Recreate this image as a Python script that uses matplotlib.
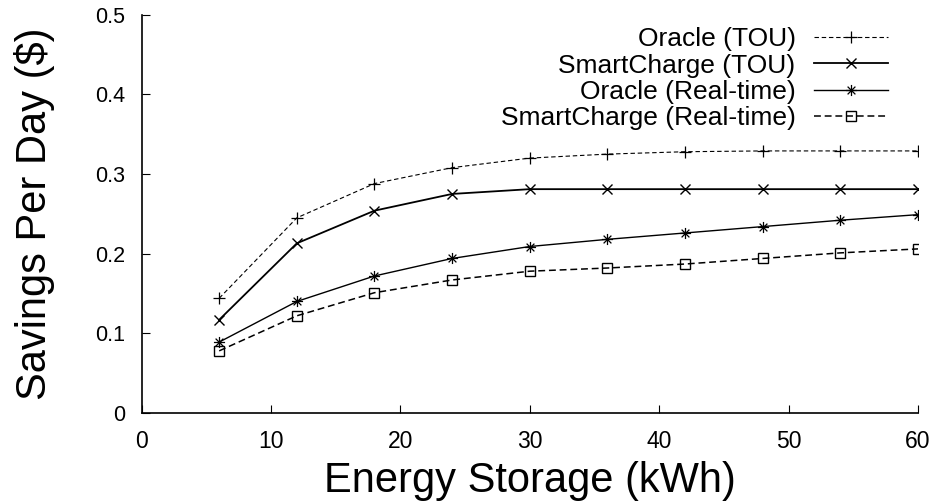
import numpy as np
import matplotlib
matplotlib.use('Agg')
import matplotlib.pyplot as plt
from matplotlib.path import Path

plt.rcParams['font.family'] = ['Liberation Sans', 'DejaVu Sans']

# Data
storage_kwh = [6, 12, 18, 24, 30, 36, 42, 48, 54, 60]
oracle_tou = [0.144, 0.245, 0.288, 0.308, 0.320, 0.325, 0.328, 0.329, 0.329, 0.329]
smart_tou = [0.117, 0.213, 0.254, 0.275, 0.281, 0.281, 0.281, 0.281, 0.281, 0.281]
oracle_rt = [0.089, 0.140, 0.172, 0.194, 0.209, 0.218, 0.226, 0.234, 0.242, 0.249]
smart_rt = [0.078, 0.122, 0.151, 0.167, 0.178, 0.182, 0.187, 0.194, 0.201, 0.206]

x_ticks = [0, 10, 20, 30, 40, 50, 60]
y_ticks = [0, 0.1, 0.2, 0.3, 0.4, 0.5]
y_tick_labels = ['0', '0.1', '0.2', '0.3', '0.4', '0.5']

# gnuplot style asterisk: plus and cross on top of each other
star = Path([(-1, 0), (1, 0), (0, -1), (0, 1),
             (-0.7, -0.7), (0.7, 0.7), (-0.7, 0.7), (0.7, -0.7)],
            [Path.MOVETO, Path.LINETO] * 4)

fig = plt.figure(figsize=(9.38, 5.04), dpi=100)
ax = fig.add_axes([0.1509, 0.1806, 0.8278, 0.7902])

ax.plot(storage_kwh, oracle_tou, color='black', lw=0.8, ls=(0, (4, 2.5)),
        marker='+', ms=8, mew=0.9, label='Oracle (TOU)')
ax.plot(storage_kwh, smart_tou, color='black', lw=1.3, ls='-',
        marker='x', ms=7, mew=1.0, label='SmartCharge (TOU)')
ax.plot(storage_kwh, oracle_rt, color='black', lw=1.0, ls='-',
        marker=star, ms=8, mew=0.9, mfc='none', label='Oracle (Real-time)')
ax.plot(storage_kwh, smart_rt, color='black', lw=1.1, ls=(0, (4.5, 2.5)),
        marker='s', ms=7, mew=1.0, mfc='none', label='SmartCharge (Real-time)')

ax.set_xlim(0, 60)
ax.set_ylim(0, 0.5)
ax.set_xticks(x_ticks)
ax.set_yticks(y_ticks)
ax.set_yticklabels(y_tick_labels)

for side in ['top', 'right']:
    ax.spines[side].set_visible(False)
for side in ['left', 'bottom']:
    ax.spines[side].set_linewidth(1.2)

ax.tick_params(axis='both', direction='in', length=6, width=0.8)
ax.tick_params(axis='x', pad=12, labelsize=16.5)
ax.tick_params(axis='y', pad=12, labelsize=15.5)

ax.set_xlabel('Energy Storage (kWh)', fontsize=30, labelpad=6)
ax.set_ylabel('Savings Per Day ($)', fontsize=30, labelpad=28.5)

ax.legend(loc='upper right', bbox_to_anchor=(0.985, 1.015), frameon=False,
          markerfirst=False, fontsize=19, handlelength=2.8,
          handletextpad=0.7, labelspacing=0.09, borderpad=0.2)

fig.savefig('out.png', dpi=100)
